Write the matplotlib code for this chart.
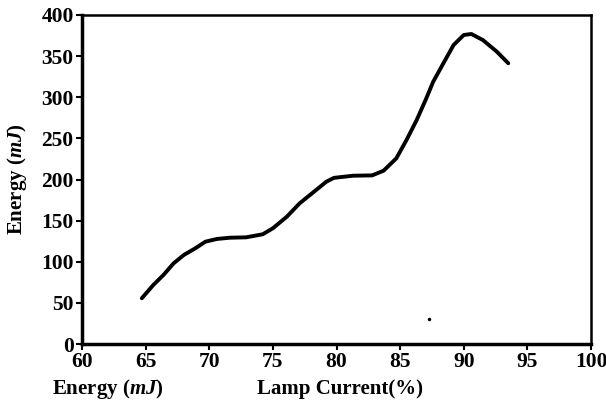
import matplotlib
matplotlib.use("Agg")
import matplotlib.pyplot as plt

plt.rcParams['font.family'] = ['Liberation Serif', 'DejaVu Serif']
plt.rcParams['font.weight'] = 'bold'
plt.rcParams['mathtext.fontset'] = 'custom'
plt.rcParams['mathtext.it'] = 'Liberation Serif:italic:bold'
plt.rcParams['mathtext.rm'] = 'Liberation Serif:bold'

lamp_current = [64.7, 65.6, 66.4, 67.2, 68.0, 68.9, 69.7, 70.6, 71.6, 72.9, 74.2,
                75.0, 76.1, 77.1, 78.3, 79.2, 79.8, 81.3, 82.8, 83.7, 84.7,
                85.5, 86.3, 87.0, 87.6, 88.4, 89.2, 90.0, 90.6, 91.5, 92.6, 93.5]
energy = [55.6, 71.7, 83.9, 98.1, 108.2, 116.3, 124.4, 127.7, 129.2, 129.7, 133.4,
          140.7, 154.8, 171.0, 186.0, 197.3, 202.0, 204.6, 205.0, 210.7, 225.7,
          248.0, 272.3, 296.6, 318.9, 341.3, 363.5, 375.7, 376.9, 369.6, 355.4, 341.3]
speck_x = [87.25]
speck_y = [30]

x_ticks = [60, 65, 70, 75, 80, 85, 90, 95, 100]
y_ticks = [0, 50, 100, 150, 200, 250, 300, 350, 400]

fig = plt.figure(figsize=(6.06, 4.09), dpi=100)
ax = fig.add_axes([82/606, 1 - 344/409, (591-82)/606, (344-15)/409])

ax.plot(lamp_current, energy, color='black', lw=2.8, solid_capstyle='round',
        solid_joinstyle='round')
ax.plot(speck_x, speck_y, 'o', color='black', ms=1.5)

ax.set_xlim(60, 100)
ax.set_ylim(0, 400)
ax.set_xticks(x_ticks)
ax.set_yticks(y_ticks)
ax.tick_params(axis='both', direction='out', length=4, width=1.5, labelsize=15.5, pad=2)
for lbl in ax.get_xticklabels() + ax.get_yticklabels():
    lbl.set_fontweight('bold')

ax.spines['left'].set_linewidth(2.5)
ax.spines['bottom'].set_linewidth(2.5)
ax.spines['top'].set_linewidth(1.8)
ax.spines['right'].set_linewidth(1.8)

ax.set_ylabel(r'Energy ($\mathit{mJ}$)', fontsize=15, fontweight='bold', labelpad=9)

fig.text(108/606, 1 - 389/409, r'Energy ($\mathit{mJ}$)', fontsize=15, fontweight='bold',
         ha='center', va='center')
fig.text(340/606, 1 - 389/409, 'Lamp Current(%)', fontsize=15, fontweight='bold',
         ha='center', va='center')

fig.savefig('out.png', dpi=100)
